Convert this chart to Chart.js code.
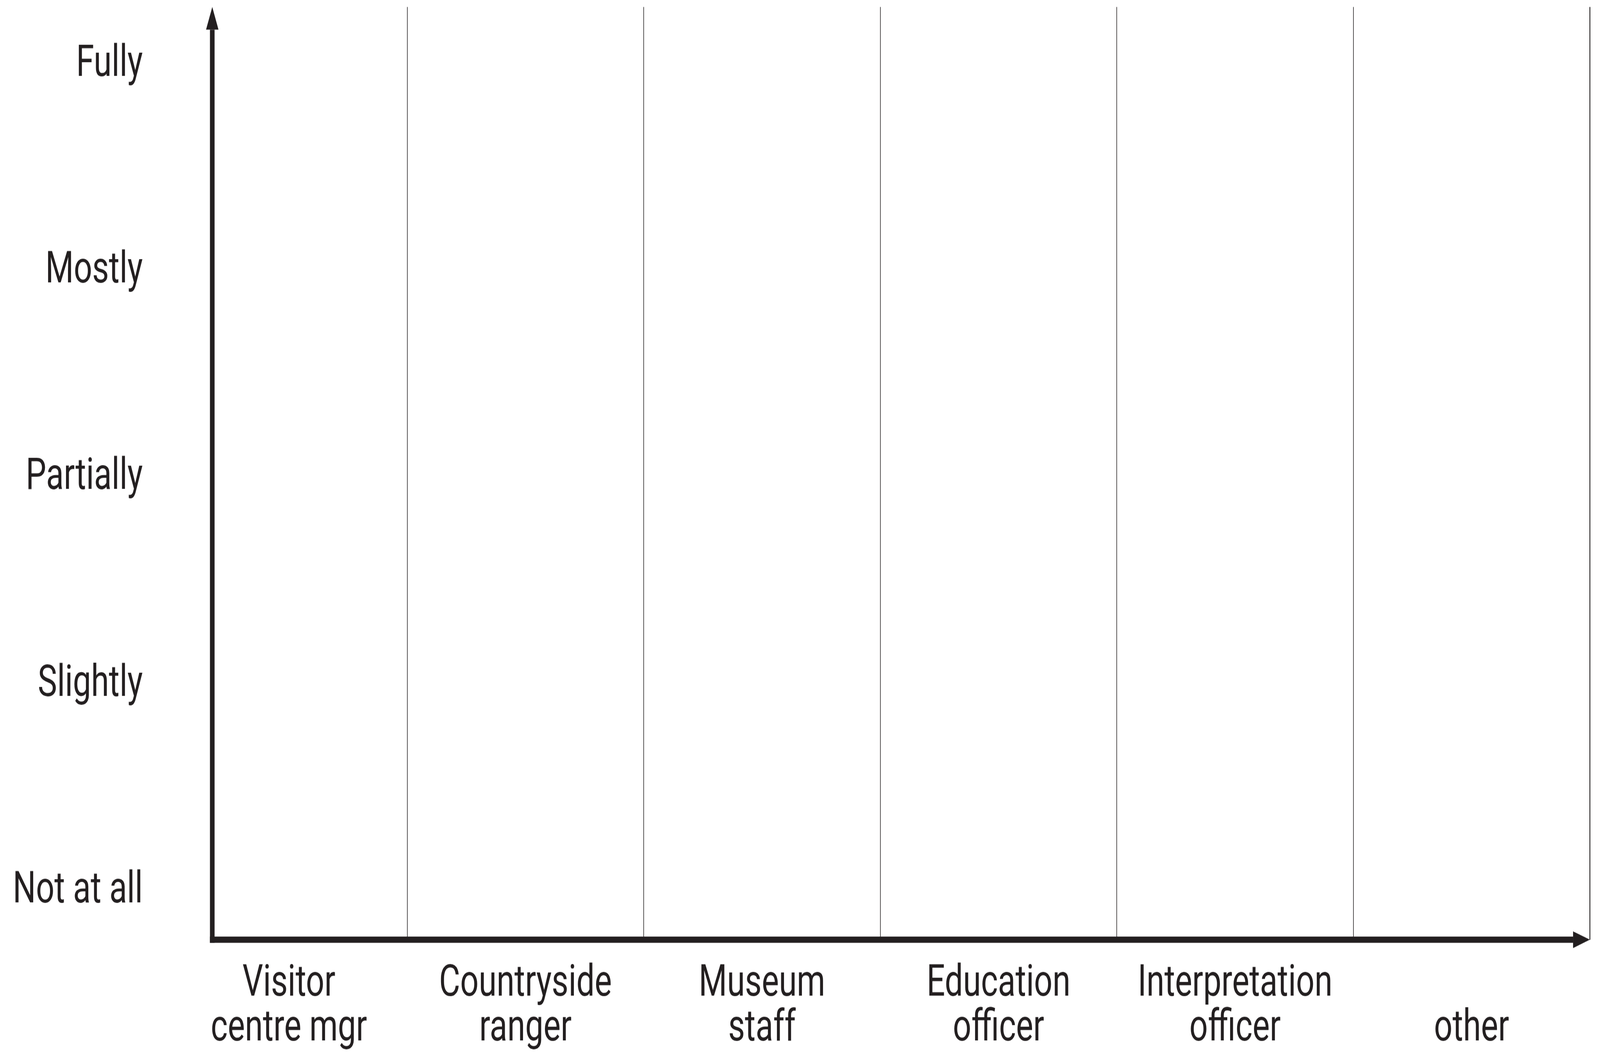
<!DOCTYPE html>
<html>
<head>
<meta charset="utf-8">
<script src="https://cdn.jsdelivr.net/npm/chart.js@4"></script>
<style>
  html, body { margin: 0; padding: 0; width: 100%; height: 100%; background: #ffffff; overflow: hidden; }
  canvas { display: block; transform-origin: 0 0; }
</style>
</head>
<body>
<canvas id="c"></canvas>
<script>
// ---- data ----
const categories = [
  ["Visitor", "centre mgr"],
  ["Countryside", "ranger"],
  ["Museum", "staff"],
  ["Education", "officer"],
  ["Interpretation", "officer"],
  ["", "other"]
];
const levelLabels = ["Not at all", "Slightly", "Partially", "Mostly", "Fully"];
const responses = []; // the chart carries no plotted responses

// ---- styling ----
const INK = "#231f20";
const FONT = "Roboto";
// layout is designed on a 5525x2704 picture; scale to the CSS viewport
const W = window.innerWidth, H = window.innerHeight;
const K = W / 5525;
const px = (v) => v * K;
const LH = W * 2704 / 5525; // logical height keeping the picture's aspect

const canvas = document.getElementById("c");
canvas.width = W;
canvas.height = LH;

const axisArrows = {
  id: "axisArrows",
  afterDraw(chart) {
    const { ctx, chartArea: a } = chart;
    const w = px(16), headLen = px(58), headHalf = px(21.5);
    ctx.save();
    ctx.fillStyle = INK;
    // vertical axis
    ctx.fillRect(a.left - w / 2, a.top + headLen, w, a.bottom + w / 2 - (a.top + headLen));
    // horizontal axis
    ctx.fillRect(a.left - w / 2, a.bottom - w / 2, (a.right - headLen) - (a.left - w / 2), w);
    // up arrow head
    ctx.beginPath();
    ctx.moveTo(a.left, a.top);
    ctx.lineTo(a.left + headHalf, a.top + headLen);
    ctx.lineTo(a.left - headHalf, a.top + headLen);
    ctx.closePath();
    ctx.fill();
    // right arrow head
    ctx.beginPath();
    ctx.moveTo(a.right, a.bottom);
    ctx.lineTo(a.right - headLen, a.bottom - headHalf);
    ctx.lineTo(a.right - headLen, a.bottom + headHalf);
    ctx.closePath();
    ctx.fill();
    ctx.restore();
  }
};

const noScalePadding = (s) => {
  s.paddingTop = 0; s.paddingBottom = 0; s.paddingLeft = 0; s.paddingRight = 0;
};

new Chart(canvas, {
  type: "scatter",
  data: { datasets: [{ data: responses }] },
  options: {
    responsive: false,
    animation: false,
    layout: { padding: { top: px(18), right: px(35), bottom: 0, left: 0 } },
    plugins: { legend: { display: false }, tooltip: { enabled: false } },
    scales: {
      x: {
        type: "linear",
        position: "bottom",
        min: -0.324,
        max: 5.5,
        afterBuildTicks: (s) => { s.ticks = categories.map((_, i) => ({ value: i })); },
        afterFit: (s) => { s.height = px(297); noScalePadding(s); },
        border: { display: false },
        grid: {
          display: true,
          offset: true,
          drawTicks: false,
          color: INK,
          lineWidth: (c) => (c.type === "tick" ? px(2) : px(3))
        },
        ticks: {
          autoSkip: false,
          maxRotation: 0,
          padding: px(58),
          color: INK,
          font: { family: FONT, size: px(112), lineHeight: 1.02 },
          callback: (v) => categories[v]
        }
      },
      y: {
        type: "linear",
        min: -0.234,
        max: 4.28,
        afterBuildTicks: (s) => { s.ticks = levelLabels.map((_, i) => ({ value: i })); },
        afterFit: (s) => { s.width = px(733); noScalePadding(s); },
        border: { display: false },
        grid: { display: false, drawTicks: false },
        ticks: {
          padding: px(240),
          color: INK,
          font: { family: FONT, size: px(112) },
          callback: (v) => levelLabels[v]
        }
      }
    }
  },
  plugins: [axisArrows]
});

// stretch the drawn picture to fill the whole window
canvas.style.transform = "scale(1," + (H / LH) + ")";
</script>
</body>
</html>
